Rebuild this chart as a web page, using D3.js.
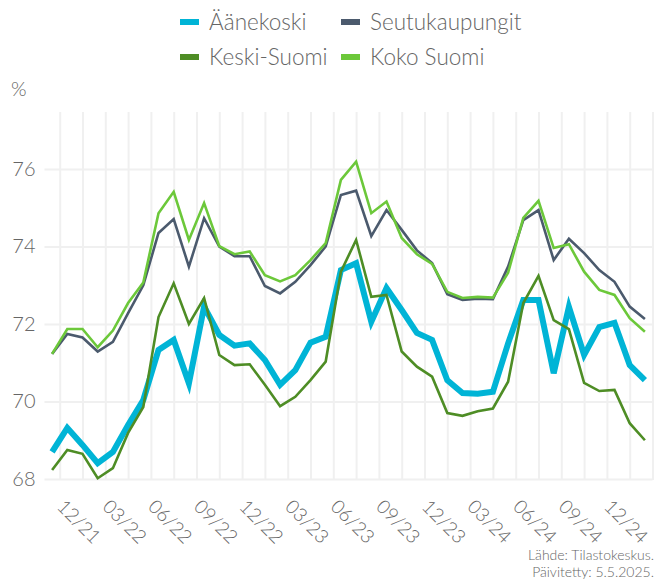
<!DOCTYPE html>
<html>
<head>
<meta charset="utf-8">
<script src="https://cdn.jsdelivr.net/npm/d3@7"></script>
<style>
  body { margin: 0; background: #fff; }
  svg text { font-family: Lato, "Open Sans", sans-serif; font-weight: 300; fill: #666; }
  .grid line { stroke: #f0f0f0; stroke-width: 2; }
  .grid .domain { display: none; }
</style>
</head>
<body>
<div id="chart"></div>
<script>
// monthly values 12/2021 - 03/2025, %
var tickLabels = ["12/21","03/22","06/22","09/22","12/22","03/23","06/23","09/23","12/23","03/24","06/24","09/24","12/24"];
var yTicks = [68, 70, 72, 74, 76];

var aanekoski = [68.70,69.32,68.88,68.41,68.70,69.39,70.04,71.33,71.59,70.47,
  72.45,71.72,71.44,71.50,71.07,70.43,70.81,71.52,71.67,73.39,
  73.57,72.06,72.93,72.36,71.77,71.59,70.55,70.22,70.20,70.25,
  71.50,72.62,72.62,70.73,72.44,71.20,71.92,72.03,70.94,70.55];
var seutukaupungit = [71.23,71.74,71.65,71.29,71.54,72.28,73.00,74.35,74.71,73.48,
  74.73,74.00,73.75,73.75,72.98,72.79,73.09,73.52,74.00,75.33,
  75.44,74.27,74.94,74.43,73.90,73.57,72.77,72.62,72.65,72.64,
  73.48,74.68,74.94,73.65,74.20,73.83,73.39,73.09,72.45,72.13];
var keskiSuomi = [68.23,68.75,68.65,68.02,68.28,69.19,69.86,72.18,73.05,72.00,
  72.67,71.20,70.94,70.96,70.43,69.88,70.12,70.55,71.03,73.35,
  74.17,72.70,72.75,71.29,70.90,70.64,69.70,69.63,69.75,69.82,
  70.51,72.54,73.24,72.10,71.87,70.48,70.27,70.30,69.44,69.00];
var kokoSuomi = [71.23,71.87,71.87,71.40,71.83,72.54,73.07,74.86,75.41,74.17,
  75.12,74.01,73.80,73.87,73.26,73.10,73.26,73.65,74.09,75.72,
  76.19,74.86,75.16,74.22,73.80,73.55,72.83,72.67,72.70,72.68,
  73.32,74.74,75.18,73.96,74.06,73.35,72.88,72.75,72.15,71.80];

var series = [
  {name: "Äänekoski", values: aanekoski, color: "#00b4d6", width: 6},
  {name: "Seutukaupungit", values: seutukaupungit, color: "#4b5a6d", width: 2.6},
  {name: "Keski-Suomi", values: keskiSuomi, color: "#4e8d25", width: 2.6},
  {name: "Koko Suomi", values: kokoSuomi, color: "#6cc83a", width: 2.6}
];

var width = 656, height = 581;
var plotTop = 112, plotBottom = 479, plotLeft = 44.5, plotRight = 652.5;

var x = d3.scaleLinear().domain([-0.5, 39.5]).range([plotLeft, plotRight]);
var y = d3.scaleLinear().domain([68, 76]).range([479, 169]);

var svg = d3.select("#chart").append("svg")
  .attr("width", width)
  .attr("height", height);

// vertical grid, every 1.5 months like the original
var gridVals = d3.range(27).map(function (k) { return 0.5 + 1.5 * k; });
svg.append("g")
  .attr("class", "grid")
  .attr("transform", "translate(0," + (plotBottom + 1) + ")")
  .call(d3.axisBottom(x).tickValues(gridVals).tickSize(-(plotBottom + 1 - plotTop)).tickFormat(""));

// y axis + horizontal grid
var yAxisG = svg.append("g")
  .attr("class", "grid")
  .attr("transform", "translate(" + plotLeft + ",0)")
  .call(d3.axisLeft(y).tickValues(yTicks).tickSize(-(plotRight - plotLeft)).tickPadding(9));
yAxisG.selectAll("text")
  .style("font-size", "20px");

svg.append("text")
  .attr("x", 11)
  .attr("y", 96)
  .style("font-size", "20px")
  .text("%");

// x tick labels, every third month
var xAxisG = svg.append("g")
  .attr("transform", "translate(0," + plotBottom + ")")
  .call(d3.axisBottom(x)
    .tickValues(tickLabels.map(function (d, i) { return i * 3; }))
    .tickSize(0)
    .tickFormat(function (d) { return tickLabels[d / 3]; }));
xAxisG.select(".domain").remove();
xAxisG.selectAll("text")
  .attr("x", 0).attr("y", 0).attr("dy", "0.35em")
  .attr("text-anchor", "start")
  .attr("transform", "translate(8,24) rotate(45)")
  .style("font-size", "19px");

// lines
var line = d3.line()
  .x(function (d, i) { return x(i); })
  .y(function (d) { return y(d); });

svg.append("g").selectAll("path.line")
  .data(series)
  .enter().append("path")
    .attr("class", "line")
    .attr("fill", "none")
    .attr("stroke", function (d) { return d.color; })
    .attr("stroke-width", function (d) { return d.width; })
    .attr("stroke-linejoin", "miter")
    .attr("d", function (d) { return line(d.values); });

// legend, 2 x 2
var legendCols = [180, 341], legendRows = [22, 57];
var legend = svg.append("g").selectAll("g.legend")
  .data(series)
  .enter().append("g")
    .attr("class", "legend")
    .attr("transform", function (d, i) {
      return "translate(" + legendCols[i % 2] + "," + legendRows[Math.floor(i / 2)] + ")";
    });
legend.append("rect")
  .attr("x", 0).attr("y", -3)
  .attr("width", 19).attr("height", 6)
  .attr("fill", function (d) { return d.color; });
legend.append("text")
  .attr("x", 29).attr("dy", "0.35em")
  .style("font-size", "22.5px")
  .text(function (d) { return d.name; });

// source
svg.append("text")
  .attr("x", 654).attr("y", 560)
  .attr("text-anchor", "end")
  .style("font-size", "14px")
  .text("Lähde: Tilastokeskus.");
svg.append("text")
  .attr("x", 654).attr("y", 577)
  .attr("text-anchor", "end")
  .style("font-size", "14px")
  .text("Päivitetty: 5.5.2025.");
</script>
</body>
</html>
